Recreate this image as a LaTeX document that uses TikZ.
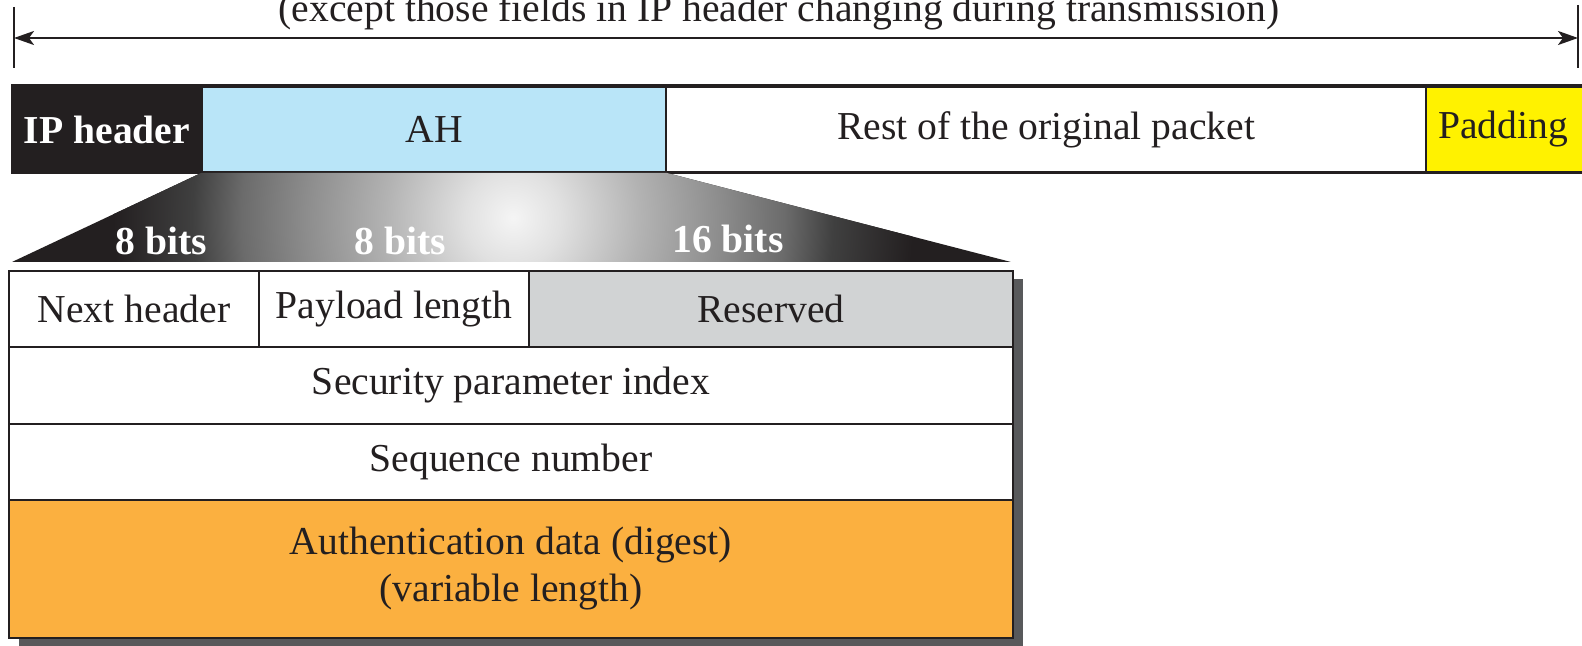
\documentclass[tikz,border=0pt]{standalone}
\usepackage{fontspec}
\setmainfont{Liberation Serif}
\usetikzlibrary{arrows.meta}
\definecolor{ipblack}{HTML}{231F20}
\definecolor{ahblue}{HTML}{B9E5F8}
\definecolor{padyellow}{HTML}{FFF200}
\definecolor{resgray}{HTML}{D1D3D4}
\definecolor{authorange}{HTML}{FBB040}
\definecolor{shadowgray}{HTML}{58595B}
% soft glow for the fan that widens the AH box into the field table
\pgfdeclareradialshading{ahglow}{\pgfpoint{0bp}{0bp}}{%
  color(0bp)=(black!4); color(3bp)=(black!12); color(8bp)=(black!30);
  color(13bp)=(black!45); color(17bp)=(black!58); color(20bp)=(black!75);
  color(25bp)=(ipblack); color(50bp)=(ipblack)}
\tikzset{dimtip/.tip={Stealth[length=10pt, width=7pt, inset=2.5pt]}}
\begin{document}
\begin{tikzpicture}[x=0.5pt, y=-0.5pt,
  font=\fontsize{19.8}{23.5}\selectfont,
  field/.style={draw=ipblack, line width=1pt, inner sep=0pt, text=ipblack,
                align=center},
  bitlabel/.style={text=white, font=\fontsize{19.8}{23.5}\selectfont\bfseries}]
\useasboundingbox (0,0) rectangle (1582,646);

% drop shadow of the AH field table
\fill[shadowgray] (19,279) rectangle (1023,646);

% AH field table
\node[field, minimum width=125pt, minimum height=38pt, fill=white]
  (nexthdr) at (134,309) {Next header};
\node[field, minimum width=135pt, minimum height=38pt, fill=white]
  (paylen) at (394,309) {Payload length};
\node[field, minimum width=242pt, minimum height=38pt, fill=resgray]
  (reserved) at (771,309) {Reserved};
\node[field, minimum width=502pt, minimum height=38.5pt, fill=white]
  (spi) at (511,385.5) {Security parameter index};
\node[field, minimum width=502pt, minimum height=38pt, fill=white]
  (seq) at (511,462) {Sequence number};
\node[field, minimum width=502pt, minimum height=69pt, fill=authorange]
  (auth) at (511,569) {Authentication data (digest)\\(variable length)};

% packet
\node[field, minimum width=95pt, minimum height=42.5pt, fill=ipblack,
      text=white, font=\fontsize{19.8}{23.5}\selectfont\bfseries]
  (iphdr) at (107,129.5) {IP header};
\node[field, minimum width=232pt, minimum height=42.5pt, fill=ahblue]
  (ah) at (434,129.5) {AH};
\node[field, minimum width=380pt, minimum height=42.5pt, fill=white]
  (rest) at (1046,129.5) {Rest of the original packet};
\node[field, minimum width=82pt, minimum height=42.5pt, fill=padyellow]
  (pad) at (1508,129.5) {};
\node[text=ipblack] (padtext) at (1503,129.5) {Padding};
\draw[ipblack, line width=1.5pt] (iphdr.north west) -- (pad.north east);
\draw[ipblack, line width=1.5pt] (iphdr.south west) -- (pad.south east);

% fan from AH to the table
\coordinate (fanL) at (12,262);
\coordinate (fanR) at (1011,262);
\coordinate (glow) at (513,218);
\begin{scope}
  \clip (ah.south west) -- (ah.south east) -- (fanR) -- (fanL) -- cycle;
  \fill[ipblack] (fanL) rectangle (ah.south east -| fanR);
  \shade[shading=ahglow] (glow) circle (400);
\end{scope}
\node[bitlabel] (bitsA) at (161,241) {8 bits};
\node[bitlabel] (bitsB) at (400,241) {8 bits};
\node[bitlabel] (bitsC) at (728,239) {16 bits};

% span of the authentication
\coordinate (limLtop) at (14,7);
\coordinate (limLbot) at (14,68);
\coordinate (limRtop) at (1578,5);
\coordinate (limRbot) at (1578,68);
\coordinate (arrL) at (14,38);
\coordinate (arrR) at (1578,38);
\draw[ipblack, line width=1pt] (limLtop) -- (limLbot);
\draw[ipblack, line width=1pt] (limRtop) -- (limRbot);
\draw[ipblack, line width=1.1pt, dimtip-dimtip] (arrL) -- (arrR);
\node[anchor=base, text=ipblack] (span) at (779,22)
  {(except those fields in IP header changing during transmission)};
\end{tikzpicture}
\end{document}
